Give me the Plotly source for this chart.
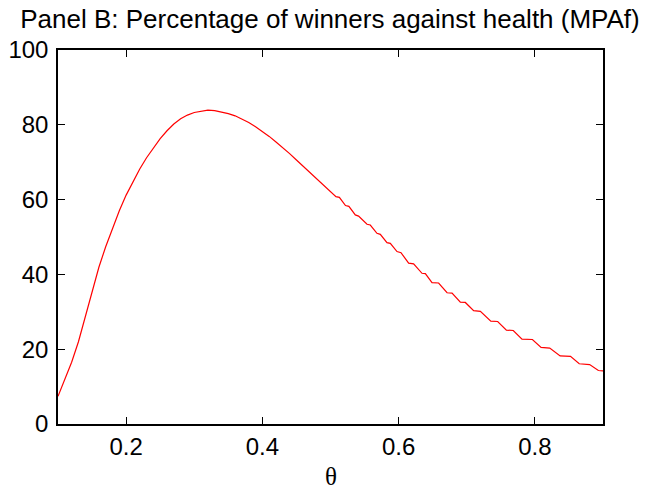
import plotly.graph_objects as go

# Data (theta vs percentage of winners)
theta = [0.10, 0.11, 0.12, 0.13, 0.14, 0.15, 0.16, 0.17, 0.18, 0.19,
         0.20, 0.21, 0.22, 0.23, 0.24, 0.25, 0.26, 0.27, 0.28, 0.29,
         0.30, 0.31, 0.32, 0.33, 0.34, 0.35, 0.36, 0.37, 0.38, 0.39,
         0.40, 0.41, 0.42, 0.43, 0.44, 0.45, 0.46, 0.47, 0.48, 0.49,
         0.50, 0.508, 0.513, 0.522, 0.527,
         0.5364, 0.5412, 0.5536, 0.5584, 0.5682, 0.5731, 0.5829, 0.5878,
         0.5976, 0.6035, 0.6147, 0.6220, 0.6343, 0.6392, 0.6490, 0.6587,
         0.6711, 0.6784, 0.6906, 0.6979, 0.7101, 0.7200, 0.7353, 0.7454,
         0.7582, 0.7683, 0.7811, 0.7964, 0.8091, 0.8218, 0.8371, 0.8523,
         0.8651, 0.8804, 0.8932, 0.9000]
winners_pct = [7.4, 11.8, 16.5, 22.0, 28.5, 35.5, 41.9, 47.4, 52.4, 57.0,
               61.2, 64.9, 68.2, 71.2, 73.9, 76.3, 78.4, 80.2, 81.6, 82.6,
               83.3, 83.7, 83.9, 83.8, 83.5, 83.0, 82.4, 81.6, 80.6, 79.5,
               78.3, 76.9, 75.4, 73.9, 72.3, 70.6, 68.9, 67.2, 65.5, 63.8,
               62.2, 60.8, 60.6, 58.4, 58.2,
               55.9, 55.6, 53.4, 53.2, 51.0, 50.7, 48.5, 48.3,
               46.1, 45.8, 43.0, 42.8, 40.3, 40.2, 37.8, 37.7,
               35.1, 35.0, 32.6, 32.5, 30.3, 30.1, 27.5, 27.4,
               25.1, 25.0, 22.7, 22.6, 20.5, 20.3, 18.2, 18.1,
               16.1, 15.9, 14.3, 14.2]

x_ticks = [0.2, 0.4, 0.6, 0.8]
x_tick_labels = ["0.2", "0.4", "0.6", "0.8"]
y_ticks = [0, 20, 40, 60, 80, 100]
y_tick_labels = ["0", "20", "40", "60", "80", "100"]

title_text = "Panel B: Percentage of winners against health (MPAf)"
x_label = "θ"

fig = go.Figure()
fig.add_trace(go.Scatter(
    x=theta, y=winners_pct, mode="lines",
    line=dict(color="#ff0000", width=1.2),
    showlegend=False, hoverinfo="skip",
))

font_main = "Liberation Sans, Arial, Helvetica, sans-serif"

# The page body has an 8px default margin, so the figure is sized to fit.
W, H = 647, 485
fig.update_layout(
    width=W, height=H,
    margin=dict(l=50, r=52, t=42, b=69),
    paper_bgcolor="white", plot_bgcolor="white",
    font=dict(family=font_main, size=24, color="black"),
    title=dict(text=title_text, x=322 / W, xanchor="center",
               yref="container", y=1 - 2 / H, yanchor="top", pad=dict(t=0, b=0),
               font=dict(family=font_main, size=26, color="black")),
)
fig.add_annotation(
    text=x_label, xref="paper", yref="paper", x=0.5, y=-0.141,
    xanchor="center", yanchor="middle", showarrow=False,
    font=dict(family="Liberation Serif, Times New Roman, serif", size=25, color="black"),
)
fig.update_xaxes(
    range=[0.1, 0.9], tickvals=x_ticks, ticktext=x_tick_labels,
    showgrid=False, zeroline=False, automargin=False,
    showline=True, linecolor="black", linewidth=1.5, mirror="ticks",
    ticks="inside", ticklen=7, tickwidth=1.2, tickcolor="black",
    tickfont=dict(family=font_main, size=24),
)
fig.update_yaxes(
    range=[0, 100], tickvals=y_ticks, ticktext=y_tick_labels,
    showgrid=False, zeroline=False, automargin=False,
    showline=True, linecolor="black", linewidth=1.5, mirror="ticks",
    ticks="inside", ticklen=7, tickwidth=1.2, tickcolor="black",
    tickfont=dict(family=font_main, size=24), ticklabelstandoff=3,
)

fig.write_html("out.html")
